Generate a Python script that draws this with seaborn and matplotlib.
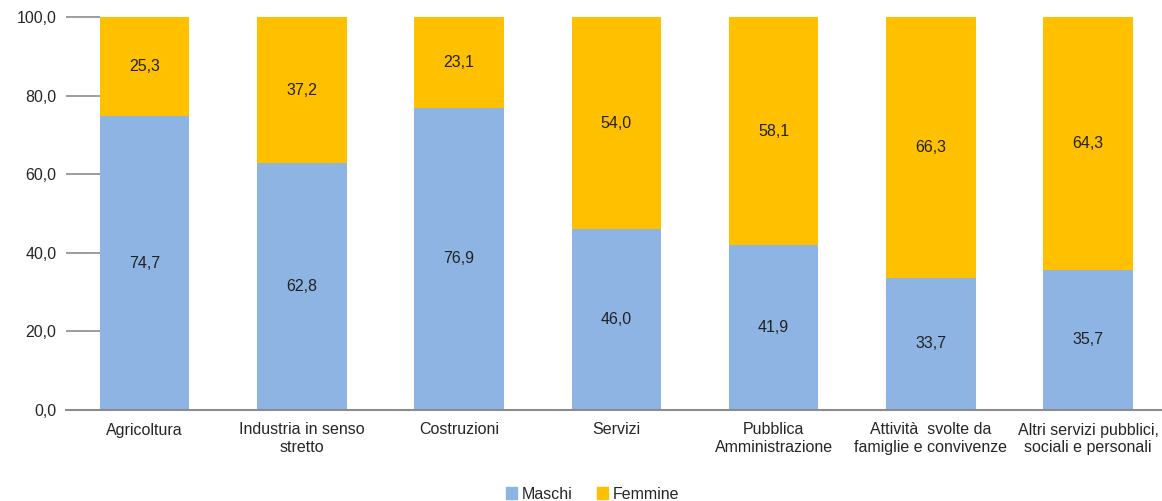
import pandas as pd
import matplotlib.pyplot as plt
import seaborn as sns
from matplotlib.patches import Patch

# Data
settori = ["Agricoltura", "Industria in senso\nstretto", "Costruzioni", "Servizi",
           "Pubblica\nAmministrazione", "Attività  svolte da\nfamiglie e convivenze",
           "Altri servizi pubblici,\nsociali e personali"]
maschi = [74.7, 62.8, 76.9, 46.0, 41.9, 33.7, 35.7]
femmine = [25.3, 37.2, 23.1, 54.0, 58.1, 66.3, 64.3]

df = pd.DataFrame({"Settore": settori, "Maschi": maschi, "Femmine": femmine})
df["Totale"] = df["Maschi"] + df["Femmine"]

blu = "#8EB4E3"
giallo = "#FFC000"
fs = 11.5

sns.set_style("white")
plt.rcParams["font.family"] = ["Liberation Sans", "DejaVu Sans"]

fig = plt.figure(figsize=(11.62, 5.01), dpi=100)
ax = fig.add_axes([66 / 1162, 91 / 501, 1096 / 1162, 393 / 501])

# stacked bars: total in yellow, males on top in blue
sns.barplot(x="Settore", y="Totale", data=df, color=giallo, width=0.57,
            saturation=1, linewidth=0, ax=ax)
sns.barplot(x="Settore", y="Maschi", data=df, color=blu, width=0.57,
            saturation=1, linewidth=0, ax=ax)

def fmt(v):
    return f"{v:.1f}".replace(".", ",")

for i, row in df.iterrows():
    ax.text(i, row["Maschi"] / 2, fmt(row["Maschi"]), ha="center", va="center",
            fontsize=fs, color="#222222")
    ax.text(i, row["Maschi"] + row["Femmine"] / 2, fmt(row["Femmine"]),
            ha="center", va="center", fontsize=fs, color="#222222")

ax.set_ylim(0, 100)
ax.set_xlim(-0.5, 6.47)
ax.set_yticks([0, 20, 40, 60, 80, 100])
ax.set_yticklabels([fmt(v) for v in [0, 20, 40, 60, 80, 100]], fontsize=fs)
ax.set_xlabel("")
ax.set_ylabel("")
ax.tick_params(axis="y", direction="in", length=24.5, width=1.2,
               color="#8c8c8c", pad=7, left=True)
ax.tick_params(axis="x", length=0, pad=9, labelsize=fs)

for s in ["top", "right", "left"]:
    ax.spines[s].set_visible(False)
ax.spines["bottom"].set_color("#8c8c8c")
ax.spines["bottom"].set_linewidth(1.5)

handles = [Patch(color=blu, label="Maschi"), Patch(color=giallo, label="Femmine")]
fig.legend(handles=handles, loc="lower center", bbox_to_anchor=(0.51, -0.03),
           ncol=2, frameon=False, fontsize=fs, handlelength=0.7,
           handleheight=0.7, handletextpad=0.3, columnspacing=1.5)

fig.savefig("out.png", dpi=100)
plt.close()
